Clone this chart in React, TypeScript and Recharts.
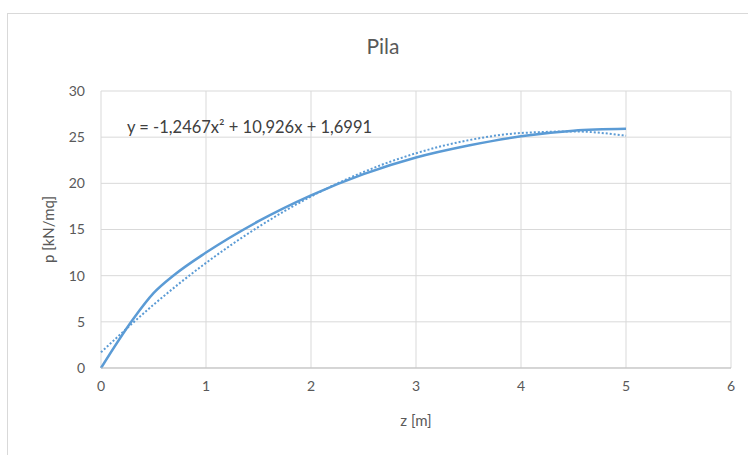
import { LineChart, Line, XAxis, YAxis, CartesianGrid, Label } from "recharts";

// measured values (z in m, p in kN/mq)
const zValues = [0, 0.3, 0.5, 0.7, 1, 1.5, 2, 2.5, 3, 3.5, 4, 4.5, 5];
const pValues = [0, 5.2, 8.1, 10.1, 12.5, 15.9, 18.7, 21.0, 22.8, 24.1, 25.1, 25.7, 25.9];

// polynomial trendline
const trendZ = [0, 0.5, 1, 1.5, 2, 2.5, 3, 3.5, 4, 4.5, 5];
const trendP = [1.7, 6.85, 11.38, 15.28, 18.57, 21.23, 23.26, 24.67, 25.45, 25.62, 25.16];

const xTicks = [0, 1, 2, 3, 4, 5, 6];
const yTicks = [0, 5, 10, 15, 20, 25, 30];

const title = "Pila";
const equation = "y = -1,2467x² + 10,926x + 1,6991";

const seriesData = zValues.map((z, i) => ({ z, p: pValues[i] }));
const trendData = trendZ.map((z, i) => ({ z, t: trendP[i] }));

const font = "Lato, 'Open Sans', sans-serif";
const blue = "#5b9bd5";
const tickStyle = { fill: "#595959", fontSize: 14, fontFamily: font };

export default function App() {
  return (
    <div style={{ position: "absolute", left: 0, top: 0, width: 748, height: 455, background: "#fff" }}>
      <div
        style={{
          position: "absolute",
          left: 7,
          top: 13,
          width: 745,
          height: 450,
          border: "1px solid #d9d9d9",
          boxSizing: "border-box",
        }}
      />
      <div
        style={{
          position: "absolute",
          left: 0,
          width: 748,
          top: 33,
          textAlign: "center",
          paddingLeft: 18,
          boxSizing: "border-box",
          fontFamily: font,
          fontSize: 21,
          color: "#595959",
        }}
      >
        {title}
      </div>
      <LineChart
        width={748}
        height={455}
        margin={{ top: 91, right: 17, left: 61, bottom: 57 }}
        style={{ position: "absolute", left: 0, top: 0 }}
      >
        <CartesianGrid stroke="#d9d9d9" strokeWidth={1} />
        <XAxis
          type="number"
          dataKey="z"
          domain={[0, 6]}
          ticks={xTicks}
          allowDuplicatedCategory={false}
          height={30}
          tickLine={false}
          axisLine={{ stroke: "#bfbfbf" }}
          tick={tickStyle}
          tickMargin={7}
        >
          <Label
            value="z [m]"
            position="insideBottom"
            offset={-28}
            style={{ fill: "#595959", fontSize: 15, fontFamily: font }}
          />
        </XAxis>
        <YAxis
          type="number"
          domain={[0, 30]}
          ticks={yTicks}
          width={40}
          tickLine={false}
          axisLine={false}
          tick={tickStyle}
          tickMargin={10}
        >
          <Label
            value="p [kN/mq]"
            angle={-90}
            position="insideLeft"
            offset={-2.5}
            dx={-10}
            style={{ fill: "#595959", fontSize: 15, fontFamily: font, textAnchor: "middle" }}
          />
        </YAxis>
        <Line
          data={trendData}
          dataKey="t"
          type="monotone"
          stroke={blue}
          strokeWidth={2}
          strokeDasharray="2 2"
          dot={false}
          isAnimationActive={false}
        />
        <Line
          data={seriesData}
          dataKey="p"
          type="monotone"
          stroke={blue}
          strokeWidth={2.5}
          dot={false}
          isAnimationActive={false}
        />
      </LineChart>
      <div
        style={{
          position: "absolute",
          left: 127,
          top: 117,
          fontFamily: font,
          fontSize: 16.5,
          color: "#404040",
          whiteSpace: "nowrap",
        }}
      >
        {equation}
      </div>
    </div>
  );
}
